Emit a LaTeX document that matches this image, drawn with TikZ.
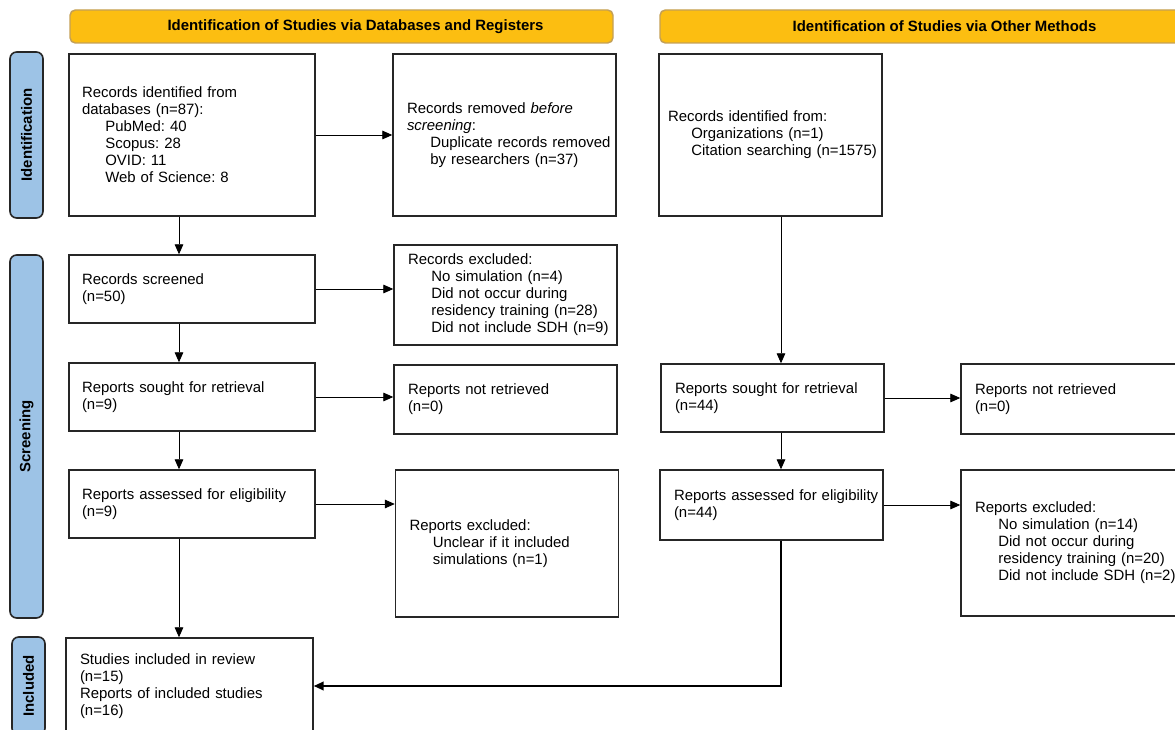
\documentclass[tikz,border=0pt]{standalone}
\usepackage{fontspec}
\setmainfont{Liberation Sans}
\usetikzlibrary{arrows.meta}
\definecolor{hdrorange}{RGB}{252,190,17}
\definecolor{hdrline}{RGB}{196,160,86}
\definecolor{phaseblue}{RGB}{157,195,230}
\newcommand{\subln}[1]{\mbox{\hspace*{17.5pt}#1}}
\frenchspacing

\begin{document}
\begin{tikzpicture}[x=0.75pt, y=-0.75pt,
	every node/.style={font=\fontsize{11.2pt}{12.75pt}\selectfont},
	header/.style={draw=hdrline, fill=hdrorange, line width=1.1pt, rounded corners=4pt, minimum height=24.75pt, inner sep=0pt, font=\fontsize{11.2pt}{12.75pt}\selectfont\bfseries},
	phase/.style={draw=black!85, fill=phaseblue, line width=1.2pt, rounded corners=5pt, minimum height=24.75pt, inner sep=0pt, rotate=90, font=\fontsize{11.2pt}{12.75pt}\selectfont\bfseries},
	box/.style={draw=black!85, line width=1.1pt, align=left, inner xsep=10.5pt, inner ysep=0pt},
	boxL/.style={box, text width=165pt, inner xsep=9.75pt},
	boxR/.style={box, text width=146.25pt},
	arr/.style={-{Triangle[length=7.5pt,width=6.5pt]}, line width=0.7pt}]

	\useasboundingbox (0,0) rectangle (1175,730);
	\clip (0,0) rectangle (1175,730);

	%Headers
	\node [header, minimum width=407.25pt] (hdrdb) at (341.5,26.5) {\hspace*{21pt}Identification of Studies via Databases and Registers};
	\node [header, minimum width=426.75pt] (hdroth) at (944.5,26.5) {Identification of Studies via Other Methods};

	%Phase bars
	\node [phase, minimum width=124.5pt] (phid) at (26.5,135) {Identification};
	\node [phase, minimum width=272.25pt] (phscr) at (26.5,436.5) {Screening};
	\node [phase, minimum width=73.5pt] (phinc) at (28.5,686) {Included};

	%Databases and registers
	\node [boxL, minimum height=121.5pt] (dbrec) at (192,135) {Records identified from\\ databases (n=87):\\ \subln{PubMed: 40}\\ \subln{Scopus: 28}\\ \subln{OVID: 11}\\ \subln{Web of Science: 8}};
	\node [boxR, minimum height=121.5pt] (removed) at (504.5,135) {Records removed \textit{before}\\ \textit{screening}:\\ \subln{Duplicate records removed}\\ \subln{by researchers (n=37)}};
	\node [boxL, minimum height=51pt] (screened) at (192,289) {Records screened\\ (n=50)};
	\node [boxR, minimum height=75pt] (recexcl) at (505.5,295) {Records excluded:\\ \subln{No simulation (n=4)}\\ \subln{Did not occur during}\\ \subln{residency training (n=28)}\\ \subln{Did not include SDH (n=9)}};
	\node [boxL, minimum height=51pt] (soughtL) at (192,397) {Reports sought for retrieval\\ (n=9)};
	\node [boxR, minimum height=51.75pt] (notretL) at (505.5,399.5) {Reports not retrieved\\ (n=0)};
	\node [boxL, minimum height=51pt] (assessL) at (192,504) {Reports assessed for eligibility\\ (n=9)};
	\node [boxR, minimum height=110.25pt] (exclL) at (507,543.5) {Reports excluded:\\ \subln{Unclear if it included}\\ \subln{simulations (n=1)}};
	\node [boxL, text width=164.25pt, inner xsep=10.5pt, minimum height=72pt] (incl) at (189.5,686) {Studies included in review\\ (n=15)\\ Reports of included studies\\ (n=16)};

	%Other methods
	\node [boxR, text width=153.75pt, inner xsep=6.75pt, minimum height=121.5pt] (othrec) at (770.5,135) {Records identified from:\\ \subln{Organizations (n=1)}\\ \subln{Citation searching (n=1575)}};
	\node [boxR, minimum height=51pt] (soughtR) at (772.5,398) {Reports sought for retrieval\\ (n=44)};
	\node [boxR, minimum height=52.5pt] (notretR) at (1072.5,399) {Reports not retrieved\\ (n=0)};
	\node [boxR, minimum height=52.5pt] (assessR) at (771.5,505) {\mbox{Reports assessed for eligibility}\\ (n=44)};
	\node [boxR, minimum height=109.5pt] (exclR) at (1072.5,543) {Reports excluded:\\ \subln{No simulation (n=14)}\\ \subln{Did not occur during}\\ \subln{residency training (n=20)}\\ \subln{Did not include SDH (n=2)}};

	%Arrows
	\coordinate (colL) at (179,0);
	\coordinate (colR) at (781,0);
	\draw [arr] (dbrec.south -| colL) -- (screened.north -| colL);
	\draw [arr] (screened.south -| colL) -- (soughtL.north -| colL);
	\draw [arr] (soughtL.south -| colL) -- (assessL.north -| colL);
	\draw [arr] (assessL.south -| colL) -- (incl.north -| colL);
	\draw [arr] (dbrec) -- (removed);
	\draw [arr] (screened.east) -- (screened.east -| recexcl.west);
	\draw [arr] (soughtL.east) -- (soughtL.east -| notretL.west);
	\draw [arr] (assessL.east) -- (assessL.east -| exclL.west);
	\draw [arr] (othrec.south -| colR) -- (soughtR.north -| colR);
	\draw [arr] (soughtR.south -| colR) -- (assessR.north -| colR);
	\draw [arr] (soughtR.east) -- (soughtR.east -| notretR.west);
	\draw [arr] (assessR.east) -- (assessR.east -| exclR.west);
	\draw [arr, line width=1.4pt] (assessR.south -| colR) |- (incl.east);

\end{tikzpicture}
\end{document}
